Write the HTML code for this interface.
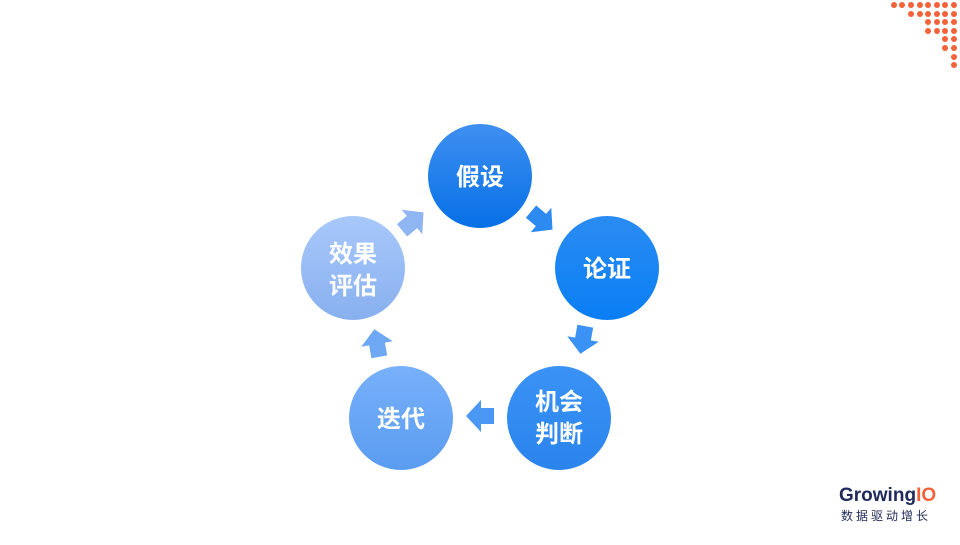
<!DOCTYPE html>
<html><head><meta charset="utf-8"><style>
body{margin:0;width:960px;height:540px;background:#fff;overflow:hidden;font-family:"Liberation Sans","Noto Sans CJK SC",sans-serif;}
</style></head><body>
<svg width="960" height="540" viewBox="0 0 960 540" xmlns="http://www.w3.org/2000/svg">
<defs>
<linearGradient id="g1" x1="0" y1="0" x2="0" y2="1"><stop offset="0" stop-color="#3f8ff0"/><stop offset="1" stop-color="#0670e6"/></linearGradient>
<linearGradient id="g2" x1="0" y1="0" x2="0" y2="1"><stop offset="0" stop-color="#2a8cf2"/><stop offset="1" stop-color="#0a7ef5"/></linearGradient>
<linearGradient id="g3" x1="0" y1="0" x2="0" y2="1"><stop offset="0" stop-color="#3a92f5"/><stop offset="1" stop-color="#2a84ec"/></linearGradient>
<linearGradient id="g4" x1="0" y1="0" x2="0" y2="1"><stop offset="0" stop-color="#78b0fb"/><stop offset="1" stop-color="#5a9cf0"/></linearGradient>
<linearGradient id="g5" x1="0" y1="0" x2="0" y2="1"><stop offset="0" stop-color="#a8c8fb"/><stop offset="1" stop-color="#88b0ef"/></linearGradient>
<polygon id="ar" points="-13,-8 0,-8 0,-16 15,0 0,16 0,8 -13,8"/>
</defs>
<g fill="#f4623a">
<circle cx="894" cy="5" r="3"/><circle cx="902" cy="5" r="3"/><circle cx="911" cy="5" r="3"/><circle cx="920" cy="5" r="3"/><circle cx="928" cy="5" r="3"/><circle cx="937" cy="5" r="3"/><circle cx="945" cy="5" r="3"/><circle cx="954" cy="5" r="3"/>
<circle cx="911" cy="14" r="3"/><circle cx="920" cy="14" r="3"/><circle cx="928" cy="14" r="3"/><circle cx="937" cy="14" r="3"/><circle cx="945" cy="14" r="3"/><circle cx="954" cy="14" r="3"/>
<circle cx="928" cy="22" r="3"/><circle cx="937" cy="22" r="3"/><circle cx="945" cy="22" r="3"/><circle cx="954" cy="22" r="3"/>
<circle cx="928" cy="31" r="3"/><circle cx="937" cy="31" r="3"/><circle cx="945" cy="31" r="3"/><circle cx="954" cy="31" r="3"/>
<circle cx="945" cy="39" r="3"/><circle cx="954" cy="39" r="3"/>
<circle cx="945" cy="48" r="3"/><circle cx="954" cy="48" r="3"/>
<circle cx="954" cy="57" r="3"/><circle cx="954" cy="65" r="3"/>
</g>
<circle cx="480" cy="176" r="52" fill="url(#g1)"/>
<circle cx="607" cy="268" r="52" fill="url(#g2)"/>
<circle cx="559" cy="418" r="52" fill="url(#g3)"/>
<circle cx="401" cy="418" r="52" fill="url(#g4)"/>
<circle cx="353" cy="268" r="52" fill="url(#g5)"/>
<use href="#ar" fill="#2c8af0" transform="translate(541,220) rotate(40)"/>
<use href="#ar" fill="#3a92f5" transform="translate(583,339) rotate(100)"/>
<use href="#ar" fill="#4a98f3" transform="translate(481,416) rotate(180)"/>
<use href="#ar" fill="#6ea8f4" transform="translate(377,344) rotate(-100)"/>
<use href="#ar" fill="#8fb6f2" transform="translate(412,222) rotate(-40)"/>
<g fill="#fff" font-size="24" font-weight="bold" text-anchor="middle" font-family="Liberation Sans,Noto Sans CJK SC,sans-serif">
<text x="480" y="185">假设</text>
<text x="607" y="277">论证</text>
<text x="559" y="410">机会</text><text x="559" y="442">判断</text>
<text x="401" y="427">迭代</text>
<text x="353" y="262">效果</text><text x="353" y="294">评估</text>
</g>
<text x="839" y="501" font-size="19" font-weight="bold" fill="#1f2a5a" font-family="Liberation Sans,sans-serif">Growing<tspan fill="#f4623a">IO</tspan></text>
<text x="841" y="520" font-size="12" fill="#1f2a5a" letter-spacing="3" font-family="Noto Sans CJK SC,sans-serif">数据驱动增长</text>
</svg>
</body></html>
